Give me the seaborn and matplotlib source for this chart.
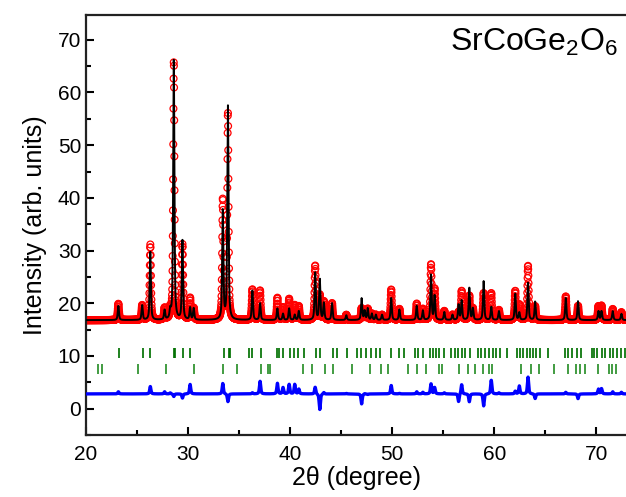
import numpy as np
import seaborn as sns
import matplotlib.pyplot as plt

# reflection positions (2theta, deg) with observed / calculated peak tops (arb. units)
peak_pos = [23.17, 25.50, 26.30, 27.70, 28.25, 28.60, 29.45, 30.20, 30.55, 33.40,
            33.90, 36.30, 37.05, 38.75, 39.30, 39.90, 40.45, 40.85, 42.45, 42.90,
            43.30, 44.10, 45.50, 47.00, 47.30, 47.60, 48.00, 48.40, 49.00, 49.90,
            50.70, 52.40, 53.00, 53.80, 54.15, 55.10, 55.90, 56.50, 56.80, 57.55,
            57.90, 58.95, 59.70, 60.45, 62.05, 62.45, 63.30, 64.00, 67.00, 68.20,
            70.20, 70.50, 71.60, 72.45]
obs_top = [19.9, 19.6, 31.1, 19.0, 18.5, 65.8, 31.0, 20.9, 19.0, 39.5,
           56.0, 22.6, 22.4, 21.0, 19.2, 20.8, 19.6, 19.4, 27.1, 21.5,
           20.3, 20.0, 17.8, 19.0, 18.6, 18.9, 18.0, 17.8, 17.8, 22.6,
           18.9, 19.9, 18.9, 27.3, 22.6, 18.5, 17.8, 18.2, 22.3, 21.4,
           19.0, 21.9, 21.9, 18.7, 22.3, 19.7, 27.1, 19.4, 21.3, 19.5,
           19.4, 19.5, 18.9, 18.3]
calc_top = [19.5, 19.6, 29.7, 18.6, 18.3, 66.3, 31.8, 19.1, 19.0, 37.5,
            57.5, 22.4, 20.0, 19.0, 18.0, 19.0, 17.8, 18.5, 25.8, 24.5,
            20.0, 20.0, 17.7, 20.9, 18.5, 19.0, 18.0, 17.8, 17.8, 21.0,
            18.8, 19.5, 18.6, 25.4, 21.4, 18.3, 17.8, 19.7, 20.5, 22.9,
            19.0, 24.2, 19.3, 18.5, 21.8, 18.2, 23.9, 20.3, 21.0, 20.4,
            18.5, 18.5, 18.5, 18.0]
background = 16.8
diff_offset = 2.8

# Bragg reflection markers, phase 1 and phase 2
bragg_1 = [23.2, 25.56, 26.3, 28.6, 28.75, 29.5, 30.2, 33.5, 34.0, 34.1, 36.0, 36.3,
           37.1, 38.7, 38.9, 39.3, 40.0, 40.4, 40.8, 41.4, 42.55, 42.9, 44.2, 44.6,
           45.6, 46.5, 46.96, 47.45, 47.9, 48.4, 48.8, 49.9, 50.7, 51.2, 52.2, 52.5,
           53.0, 53.7, 54.0, 54.3, 54.6, 55.1, 55.8, 56.1, 56.4, 56.8, 57.1, 57.6,
           58.4, 58.7, 59.1, 59.5, 59.9, 60.2, 60.6, 61.2, 62.2, 62.5, 62.8, 63.2,
           63.5, 63.8, 64.1, 64.5, 65.3, 66.9, 67.2, 67.6, 68.1, 68.5, 69.6, 69.8,
           70.1, 70.5, 70.8, 71.3, 71.6, 72.0, 72.45, 72.8]
bragg_2 = [21.2, 21.6, 25.1, 27.8, 30.6, 33.4, 34.8, 37.1, 37.8, 38.0, 41.3, 42.1,
           43.4, 44.2, 46.1, 47.8, 48.9, 49.6, 51.5, 52.4, 53.3, 54.6, 54.9, 56.5,
           57.4, 58.1, 58.9, 59.5, 59.8, 62.6, 63.6, 64.4, 65.8, 67.2, 68.0, 68.4,
           68.9, 70.2, 71.2, 71.5, 71.9]

two_theta = np.arange(20.0, 73.0, 0.015)


def profile(tops):
    # pseudo-Voigt peaks on a flat background
    y = np.full_like(two_theta, background)
    for p, h in zip(peak_pos, tops):
        w = 0.14
        d = (two_theta - p) / (w / 2)
        lor = 1 / (1 + d ** 2)
        gau = np.exp(-np.log(2) * d ** 2)
        y += (h - background) * (0.6 * lor + 0.4 * gau)
    return y


y_obs = profile(obs_top)
y_calc = profile(calc_top)
y_diff = y_obs - y_calc + diff_offset

sns.set_style("ticks")
plt.rcParams['font.family'] = ['Liberation Sans', 'DejaVu Sans']
plt.rcParams['mathtext.fontset'] = 'custom'
plt.rcParams['mathtext.rm'] = 'Liberation Sans'
plt.rcParams['mathtext.it'] = 'Liberation Sans'
plt.rcParams['text.color'] = 'black'
plt.rcParams['axes.labelcolor'] = 'black'
plt.rcParams['xtick.color'] = 'black'
plt.rcParams['ytick.color'] = 'black'

fig = plt.figure(figsize=(6.26, 4.97), dpi=100)
ax = fig.add_axes([86 / 626, 62 / 497, 540 / 626, 420 / 497])

sns.scatterplot(x=two_theta, y=y_obs, ax=ax, marker='o', s=24, facecolor='none',
                edgecolor='red', color='red', linewidth=0.9, zorder=2)
sns.lineplot(x=two_theta, y=y_calc, ax=ax, color='black', linewidth=1.4,
             estimator=None, sort=False, zorder=3)
sns.lineplot(x=two_theta, y=y_diff, ax=ax, color='blue', linewidth=2.4,
             estimator=None, sort=False, zorder=3)
ax.vlines(bragg_1, 9.7, 11.6, color='#007000', alpha=0.95, linewidth=1.3)
ax.vlines(bragg_2, 6.6, 8.5, color='#007a00', alpha=0.8, linewidth=1.3)

ax.set_xlim(20, 72.9)
ax.set_ylim(-5, 74.7)
ax.set_xticks([20, 30, 40, 50, 60, 70])
ax.set_xticks(np.arange(25, 73, 10), minor=True)
ax.set_yticks(np.arange(0, 71, 10))
ax.set_yticks(np.arange(-5, 74, 10), minor=True)
ax.tick_params(which='both', direction='in', width=1.5, labelsize=15, colors='black')
ax.tick_params(which='major', length=6)
ax.tick_params(which='minor', length=3.5)
ax.tick_params(axis='x', pad=7)
for side in ['left', 'bottom', 'top']:
    ax.spines[side].set_linewidth(1.6)
    ax.spines[side].set_color('#222222')
ax.spines['right'].set_visible(False)

ax.set_xlabel('2θ (degree)', fontsize=18, labelpad=2)
ax.set_ylabel('Intensity (arb. units)', fontsize=18, labelpad=8)
ax.text(0.985, 0.972, 'SrCoGe$_2$O$_6$', transform=ax.transAxes, ha='right',
        va='top', fontsize=23)

fig.savefig('out.png', dpi=100)
